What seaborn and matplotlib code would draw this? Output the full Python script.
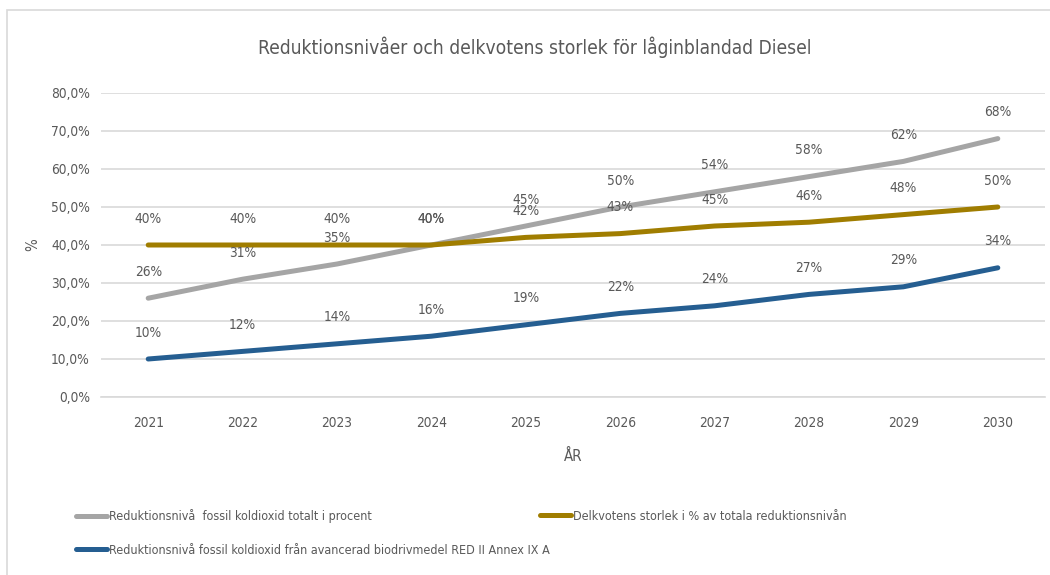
import numpy as np
import pandas as pd
import seaborn as sns
import matplotlib.pyplot as plt
from matplotlib.patches import Rectangle
from matplotlib.ticker import FuncFormatter

years = ["2021", "2022", "2023", "2024", "2025", "2026", "2027", "2028", "2029", "2030"]
total = [26, 31, 35, 40, 45, 50, 54, 58, 62, 68]
delkvot = [40, 40, 40, 40, 42, 43, 45, 46, 48, 50]
avancerad = [10, 12, 14, 16, 19, 22, 24, 27, 29, 34]

name_total = "Reduktionsnivå  fossil koldioxid totalt i procent"
name_delkvot = "Delkvotens storlek i % av totala reduktionsnivån"
name_avancerad = "Reduktionsnivå fossil koldioxid från avancerad biodrivmedel RED II Annex IX A"

colors = {name_total: "#A5A5A5", name_delkvot: "#A07D00", name_avancerad: "#255E91"}
txt = "#595959"

sns.set_theme(style="white")
plt.rcParams["font.family"] = ["DejaVu Sans"]
plt.rcParams["font.stretch"] = "condensed"

df = pd.DataFrame({
    "pos": list(range(len(years))) * 3,
    "value": total + delkvot + avancerad,
    "serie": [name_total] * 10 + [name_delkvot] * 10 + [name_avancerad] * 10,
})

fig = plt.figure(figsize=(10.5, 5.75), dpi=100)
ax = fig.add_axes([101 / 1050, 1 - 397 / 575, 944 / 1050, (397 - 93) / 575])

sns.lineplot(data=df, x="pos", y="value", hue="serie", palette=colors,
             linewidth=3.6, ax=ax, legend=False, solid_capstyle="round")

# data labels above each point
for serie, vals in [(name_total, total), (name_delkvot, delkvot), (name_avancerad, avancerad)]:
    for i, v in enumerate(vals):
        ax.annotate(f"{v}%", (i, v), xytext=(0, 19), textcoords="offset points",
                    ha="center", va="center", fontsize=9.8, color=txt)

ax.set_xlim(-0.5, 9.5)
ax.set_ylim(0, 80)
ax.set_yticks(np.arange(0, 81, 10))
ax.yaxis.set_major_formatter(FuncFormatter(lambda v, p: f"{v:.1f}%".replace(".", ",")))
ax.set_xticks(range(len(years)))
ax.set_xticklabels(years)
ax.set_xticks(np.arange(-0.5, 10, 1), minor=True)
ax.tick_params(axis="x", which="minor", length=5, color="#D9D9D9", width=1)
ax.tick_params(axis="x", which="major", length=0, pad=14, labelsize=9.8, labelcolor=txt)
ax.tick_params(axis="y", length=0, pad=8, labelsize=9.8, labelcolor=txt)
ax.grid(axis="y", color="#D9D9D9", linewidth=1.2)
ax.set_axisbelow(True)
for s in ["top", "right", "left"]:
    ax.spines[s].set_visible(False)
ax.spines["bottom"].set_color("#D9D9D9")
ax.spines["bottom"].set_linewidth(1.2)

ax.set_xlabel("ÅR", fontsize=10.8, color=txt)
ax.xaxis.set_label_coords(0.5, -(449 - 397) / 304)
ax.set_ylabel("%", fontsize=10.8, color=txt)
ax.yaxis.set_label_coords(-(101 - 40) / 944, 0.5)

fig.text(535 / 1050, 1 - 47 / 575,
         "Reduktionsnivåer och delkvotens storlek för låginblandad Diesel",
         ha="center", va="center", fontsize=13.8, color=txt)

# legend entries placed like the Excel legend
for name, x, y in [(name_total, 76, 516), (name_delkvot, 540, 516), (name_avancerad, 76, 550)]:
    h = plt.Line2D([], [], color=colors[name], linewidth=3.6)
    fig.legend([h], [name], loc="center left",
               bbox_to_anchor=(x / 1050, 1 - y / 575), frameon=False,
               fontsize=9, labelcolor=txt, handlelength=2.5,
               handletextpad=0.15, borderpad=0, borderaxespad=0)

# chart border, cropped on top/left
fig.patches.append(Rectangle((7 / 1050, -0.1), 1.2, 1.1 - 10 / 575,
                             transform=fig.transFigure, fill=False,
                             edgecolor="#D9D9D9", linewidth=1.2))

fig.savefig("out.png", dpi=100)
